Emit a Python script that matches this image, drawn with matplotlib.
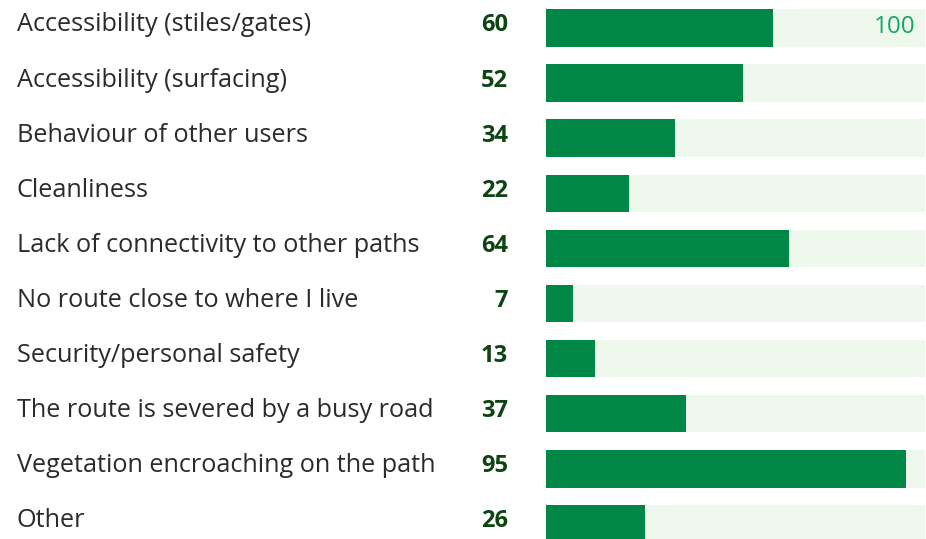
import matplotlib
matplotlib.use("Agg")
import matplotlib.pyplot as plt

categories = [
    "Accessibility (stiles/gates)",
    "Accessibility (surfacing)",
    "Behaviour of other users",
    "Cleanliness",
    "Lack of connectivity to other paths",
    "No route close to where I live",
    "Security/personal safety",
    "The route is severed by a busy road",
    "Vegetation encroaching on the path",
    "Other",
]
values = [60, 52, 34, 22, 64, 7, 13, 37, 95, 26]
total = 100

W, H = 926, 539
fig = plt.figure(figsize=(W / 100, H / 100), dpi=100)
ax = fig.add_axes([546 / W, 0, 379 / W, 1])

pitch = 55.1
top = 28
ax.set_xlim(0, total)
ax.set_ylim((H - top) / pitch, -top / pitch)

rows = range(len(categories))
ax.barh(rows, [total] * len(values), height=0.68, color="#eef7ec", linewidth=0)
ax.barh(rows, values, height=0.68, color="#008745", linewidth=0)

tr = ax.get_yaxis_transform()
base = 3.5 / pitch
for i, (cat, v) in enumerate(zip(categories, values)):
    ax.text((17 - 546) / 379, i + base, cat, transform=tr, ha="left", va="baseline",
            fontsize=18.2, color="#2b2b2b", family="Open Sans")
    ax.text((508 - 546) / 379, i + base, str(v), transform=tr, ha="right", va="baseline",
            fontsize=17, color="#0c4512", fontweight="bold", family="Open Sans")

ax.text(97.5, base + 0.02, str(total), ha="right", va="baseline", fontsize=17.5,
        color="#13a866", family="Open Sans")

ax.axis("off")
fig.savefig("out.png", dpi=100)
